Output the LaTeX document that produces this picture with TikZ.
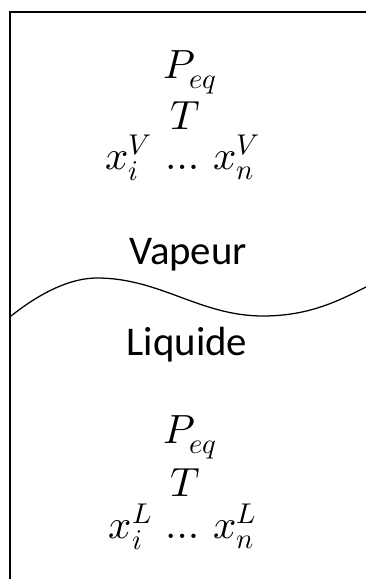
\documentclass[tikz,border=0pt]{standalone}
\usepackage{fontspec}
\usepackage{unicode-math}
\setmainfont{Carlito}
\setmathfont{Latin Modern Math}
\begin{document}
\begin{tikzpicture}[x=0.025cm, y=-0.025cm,
  phase/.style={font=\fontsize{29}{33}\selectfont},
  var/.style={font=\fontsize{29}{33}\selectfont, inner sep=0pt}]
  \useasboundingbox (0,0) rectangle (366,579);
  \draw[line width=1.5pt] (10,600) -- (10,12) -- (380,12);
  \draw[line width=0.9pt] (11,316) .. controls (40,293) and (70,278) .. (97,278)
    .. controls (160,278) and (200,316) .. (263,316) .. controls (310,316) and (340,300) .. (366,287);
  \node[var] (peqV) at (190,72) {$P_{eq}$};
  \node[var] (tV) at (185,116) {$T$};
  \node[var] (xV) at (183,158) {$x_i^V \,\dots\, x_n^V$};
  \node[phase] (vap) at (188,255) {Vapeur};
  \node[phase] (liq) at (187,345) {Liquide};
  \node[var] (peqL) at (190,437) {$P_{eq}$};
  \node[var] (tL) at (185,483) {$T$};
  \node[var] (xL) at (183,527) {$x_i^L \,\dots\, x_n^L$};
\end{tikzpicture}
\end{document}
